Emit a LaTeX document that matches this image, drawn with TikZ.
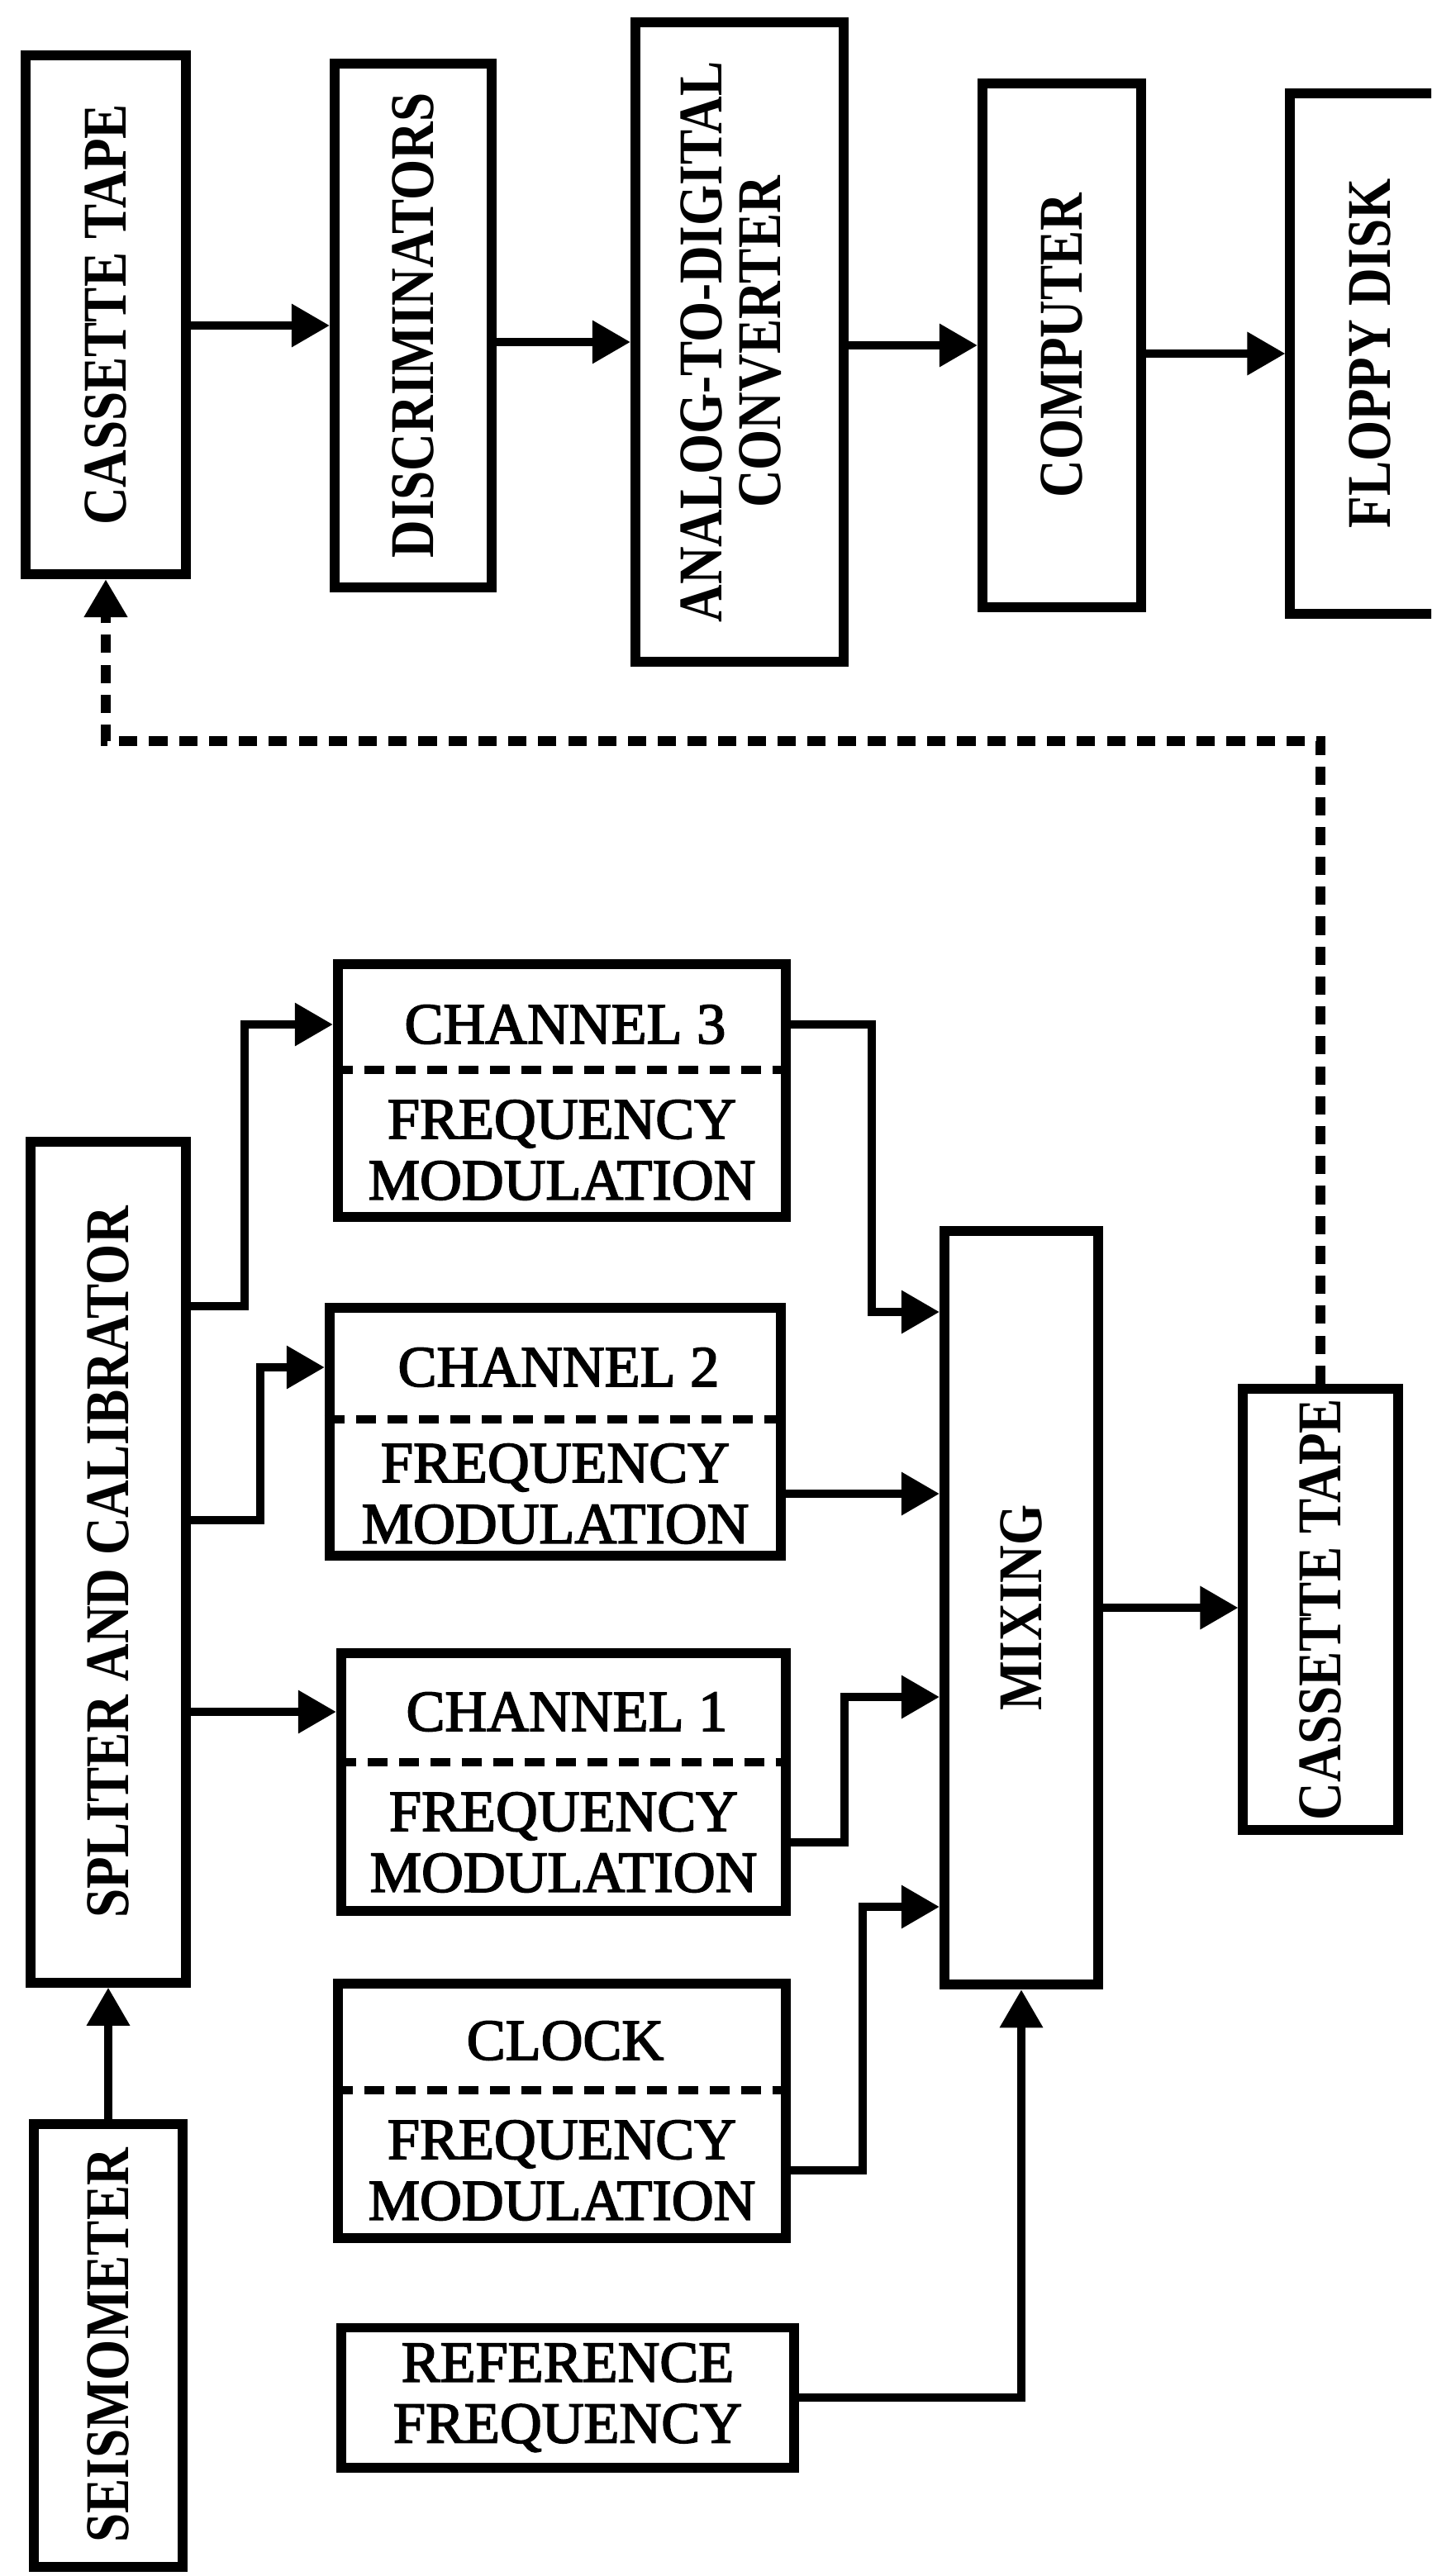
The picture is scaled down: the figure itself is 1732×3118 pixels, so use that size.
\documentclass[tikz,border=0pt]{standalone}
\usepackage{graphicx}
\usepackage{fontspec}
\setmainfont{Liberation Serif}
\newfontfamily\vertfont{Liberation Serif}[FakeStretch=0.84]
\newfontfamily\horfont{Liberation Serif}[FakeBold=2.4]
\usepackage{tikz}
\usetikzlibrary{arrows.meta}
\tikzset{
  block/.style={
    rectangle, draw, line width=3.4pt, inner sep=0pt
  },
  vlabel/.style={
    font=\vertfont\bfseries\fontsize{21.4}{20}\selectfont
  },
  hlabel/.style={
    font=\horfont\fontsize{20}{21}\selectfont, align=center, inner sep=0pt
  },
  link/.style={-{Triangle[length=0.46cm, width=0.5cm]}, line width=2.8pt},
  dashsplit/.style={line width=2.6pt, dash pattern=on 7pt off 3.8pt},
  feedback/.style={-{Triangle[length=0.46cm, width=0.5cm]}, line width=3.2pt,
    dash pattern=on 6.3pt off 4pt}
}

\begin{document}
\begin{tikzpicture}[x=0.01cm, y=-0.01cm]
  \useasboundingbox (0,0) rectangle (1732,3118);
  \clip (0,0) rectangle (1732,3118);

  \node[block, vlabel, minimum width=1.94cm, minimum height=6.28cm] (tape1) at (128,381) {\rotatebox{90}{CASSETTE TAPE}};
  \node[block, vlabel, minimum width=1.90cm, minimum height=6.34cm] (disc) at (500,394) {\rotatebox{90}{DISCRIMINATORS}};
  \node[block, vlabel, minimum width=2.52cm, minimum height=7.74cm] (adc) at (895,414)
    {\rotatebox{90}{\begin{tabular}{@{}c@{}}ANALOG-TO-DIGITAL\\CONVERTER\end{tabular}}};
  \node[block, vlabel, minimum width=1.92cm, minimum height=6.34cm] (comp) at (1285,418) {\rotatebox{90}{COMPUTER}};
  \node[block, vlabel, minimum width=1.93cm, minimum height=6.30cm] (floppy) at (1658,428) {\rotatebox{90}{FLOPPY DISK}};

  \node[block, vlabel, minimum width=1.88cm, minimum height=10.17cm] (split) at (131,1891) {\rotatebox{90}{SPLITER AND CALIBRATOR}};
  \node[block, vlabel, minimum width=1.80cm, minimum height=5.35cm] (seis) at (131,2839) {\rotatebox{90}{SEISMOMETER}};

  \node[block, minimum width=5.42cm, minimum height=3.06cm] (ch3) at (680,1320) {};
  \node[hlabel] (ch3t) at (684,1240) {CHANNEL 3};
  \node[hlabel] (ch3f) at (680,1392) {FREQUENCY\\MODULATION};
  \draw[dashsplit] (ch3.west |- 0,1295) -- (ch3.east |- 0,1295);

  \node[block, minimum width=5.46cm, minimum height=3.00cm] (ch2) at (672,1733) {};
  \node[hlabel] (ch2t) at (676,1655) {CHANNEL 2};
  \node[hlabel] (ch2f) at (672,1808) {FREQUENCY\\MODULATION};
  \draw[dashsplit] (ch2.west |- 0,1718) -- (ch2.east |- 0,1718);

  \node[block, minimum width=5.38cm, minimum height=3.12cm] (ch1) at (682,2157) {};
  \node[hlabel] (ch1t) at (686,2072) {CHANNEL 1};
  \node[hlabel] (ch1f) at (682,2230) {FREQUENCY\\MODULATION};
  \draw[dashsplit] (ch1.west |- 0,2133) -- (ch1.east |- 0,2133);

  \node[block, minimum width=5.42cm, minimum height=3.08cm] (clock) at (680,2555) {};
  \node[hlabel] (clockt) at (684,2470) {CLOCK};
  \node[hlabel] (clockf) at (680,2627) {FREQUENCY\\MODULATION};
  \draw[dashsplit] (clock.west |- 0,2530) -- (clock.east |- 0,2530);

  \node[block, hlabel, minimum width=5.48cm, minimum height=1.69cm] (ref) at (687,2902) {REFERENCE\\FREQUENCY};

  \node[block, vlabel, minimum width=1.86cm, minimum height=9.12cm] (mix) at (1236,1946) {\rotatebox{90}{MIXING}};
  \node[block, vlabel, minimum width=1.87cm, minimum height=5.34cm] (tape2) at (1598,1948) {\rotatebox{90}{CASSETTE TAPE}};

  \coordinate (in3) at (mix.west |- 0,1588);
  \coordinate (in2) at (mix.west |- ch2f);
  \coordinate (in1) at (mix.west |- 0,2054);
  \coordinate (in0) at (mix.west |- 0,2308);
  \coordinate (fbk) at (tape1.south |- 0,897);

  \draw[link] (tape1.east |- disc.west) -- (disc.west);
  \draw[link] (disc.east |- adc.west) -- (adc.west);
  \draw[link] (adc.east |- comp.west) -- (comp.west);
  \draw[link] (comp.east |- floppy.west) -- (floppy.west);

  \draw[link] (seis) -- (split);
  \draw[link] (split.east |- 0,1581) -| (296,1400) |- (ch3t -| ch3.west);
  \draw[link] (split.east |- 0,1840) -| (315,1750) |- (ch2t -| ch2.west);
  \draw[link] (split.east |- ch1t) -- (ch1t -| ch1.west);

  \draw[link] (ch3t -| ch3.east) -| (1055,1400) |- (in3);
  \draw[link] (ch2f -| ch2.east) -- (in2);
  \draw[link] (ch1f -| ch1.east) -| (1022,2150) |- (in1);
  \draw[link] (clockf -| clock.east) -| (1044,2450) |- (in0);
  \draw[link] (ref.east) -| (mix.south);
  \draw[link] (mix.east) -- (tape2.west |- mix.east);

  \draw[feedback] (tape2.north) |- (fbk) -- (tape1.south);
\end{tikzpicture}
\end{document}
